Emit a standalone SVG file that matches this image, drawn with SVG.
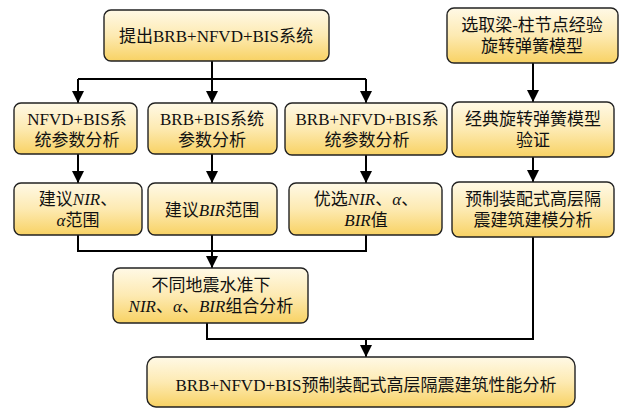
<svg xmlns="http://www.w3.org/2000/svg" width="620" height="409" viewBox="0 0 620 409">
<defs>
<linearGradient id="g" x1="0" y1="0" x2="0" y2="1">
<stop offset="0" stop-color="#fff9e6"/>
<stop offset="0.5" stop-color="#fdeab2"/>
<stop offset="1" stop-color="#f8d264"/>
</linearGradient>
<marker id="ar" markerUnits="userSpaceOnUse" markerWidth="12" markerHeight="12" refX="12" refY="6" orient="auto">
<path d="M0,0 L12,6 L0,12 z" fill="#000"/>
</marker>
<style>
.b{fill:url(#g);stroke:#222;stroke-width:1.4}
.t{font-family:"Liberation Serif","Noto Sans CJK SC",serif;font-size:17px;fill:#111;text-anchor:middle}
.i{font-style:italic}
.c{fill:none;stroke:#000;stroke-width:2}
</style>
</defs>
<g id="connectors">
<path class="c" d="M212,61 V79"/>
<path class="c" d="M78,79 H366"/>
<path class="c" d="M78,79 V103" marker-end="url(#ar)"/>
<path class="c" d="M212,79 V103" marker-end="url(#ar)"/>
<path class="c" d="M366,79 V103" marker-end="url(#ar)"/>
<path class="c" d="M533,63 V102" marker-end="url(#ar)"/>
<path class="c" d="M78,154 V183" marker-end="url(#ar)"/>
<path class="c" d="M212,154 V183" marker-end="url(#ar)"/>
<path class="c" d="M366,155 V183" marker-end="url(#ar)"/>
<path class="c" d="M533,157 V182" marker-end="url(#ar)"/>
<path class="c" d="M78,235 V251 H366 V235"/>
<path class="c" d="M212,235 V268" marker-end="url(#ar)"/>
<path class="c" d="M207,323 V339 H533 V237"/>
<path class="c" d="M366,339 V357" marker-end="url(#ar)"/>
</g>
<g id="n1"><rect class="b" x="104" y="10" width="225" height="51" rx="7"/>
<text class="t" x="216" y="42">提出BRB+NFVD+BIS系统</text></g>
<g id="n2"><rect class="b" x="447" y="8" width="171" height="55" rx="7"/>
<text class="t" x="532" y="31">选取梁-柱节点经验</text>
<text class="t" x="532" y="52">旋转弹簧模型</text></g>
<g id="n3"><rect class="b" x="14" y="103" width="123" height="51" rx="7"/>
<text class="t" x="77" y="125">NFVD+BIS系</text>
<text class="t" x="77" y="146">统参数分析</text></g>
<g id="n4"><rect class="b" x="148" y="103" width="129" height="51" rx="7"/>
<text class="t" x="212" y="125">BRB+BIS系统</text>
<text class="t" x="212" y="146">参数分析</text></g>
<g id="n5"><rect class="b" x="285" y="103" width="162" height="52" rx="7"/>
<text class="t" x="367" y="125">BRB+NFVD+BIS系</text>
<text class="t" x="367" y="146">统参数分析</text></g>
<g id="n6"><rect class="b" x="452" y="102" width="162" height="55" rx="7"/>
<text class="t" x="533" y="125">经典旋转弹簧模型</text>
<text class="t" x="533" y="146">验证</text></g>
<g id="n7"><rect class="b" x="14" y="183" width="128" height="52" rx="7"/>
<text class="t" x="78" y="205">建议<tspan class="i">NIR</tspan>、</text>
<text class="t" x="78" y="226"><tspan class="i">α</tspan>范围</text></g>
<g id="n8"><rect class="b" x="148" y="183" width="129" height="52" rx="7"/>
<text class="t" x="212" y="216">建议<tspan class="i">BIR</tspan>范围</text></g>
<g id="n9"><rect class="b" x="289" y="183" width="153" height="52" rx="7"/>
<text class="t" x="366" y="205">优选<tspan class="i">NIR</tspan>、<tspan class="i">α</tspan>、</text>
<text class="t" x="366" y="226"><tspan class="i">BIR</tspan>值</text></g>
<g id="n10"><rect class="b" x="452" y="182" width="162" height="55" rx="7"/>
<text class="t" x="533" y="205">预制装配式高层隔</text>
<text class="t" x="533" y="226">震建筑建模分析</text></g>
<g id="n11"><rect class="b" x="113" y="268" width="195" height="55" rx="7"/>
<text class="t" x="211" y="291">不同地震水准下</text>
<text class="t" x="211" y="312"><tspan class="i">NIR</tspan>、<tspan class="i">α</tspan>、<tspan class="i">BIR</tspan>组合分析</text></g>
<g id="n12"><rect class="b" x="147" y="357" width="428" height="50" rx="9"/>
<text class="t" x="366" y="391">BRB+NFVD+BIS预制装配式高层隔震建筑性能分析</text></g>
</svg>
